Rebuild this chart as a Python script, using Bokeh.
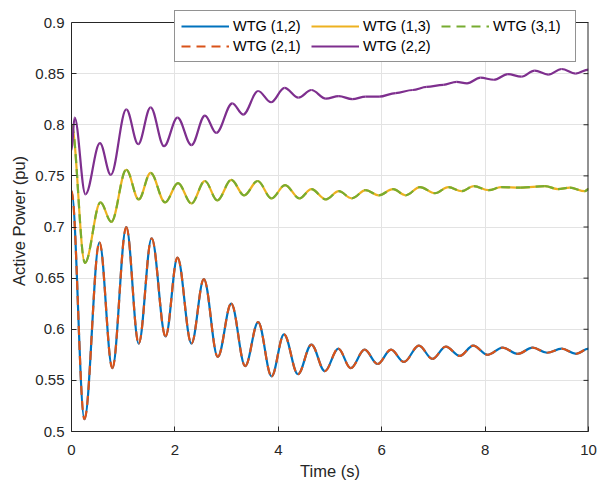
import numpy as np
from bokeh.plotting import figure
from bokeh.models import ColumnDataSource, Range1d, FixedTicker, Legend, LegendItem
from bokeh.embed import file_html
from bokeh.resources import INLINE

# ---- data: turning points (time s, active power pu) ----
t_12 = [0.00, 0.25, 0.54, 0.79, 1.06, 1.30, 1.55, 1.82, 2.05, 2.32, 2.56, 2.83,
        3.09, 3.36, 3.61, 3.87, 4.11, 4.38, 4.64, 4.90, 5.16, 5.40, 5.67, 5.92,
        6.18, 6.43, 6.72, 6.98, 7.24, 7.51, 7.77, 8.05, 8.34, 8.63, 8.92, 9.20,
        9.48, 9.76, 10.00]
p_12 = [0.735, 0.512, 0.685, 0.562, 0.700, 0.586, 0.689, 0.593, 0.670, 0.586,
        0.649, 0.573, 0.625, 0.564, 0.607, 0.554, 0.595, 0.556, 0.585, 0.559,
        0.581, 0.562, 0.580, 0.566, 0.580, 0.568, 0.584, 0.571, 0.583, 0.574,
        0.584, 0.575, 0.582, 0.576, 0.582, 0.577, 0.581, 0.576, 0.581]

# WTG (2,1) lies exactly on WTG (1,2) in the picture
t_21 = list(t_12)
p_21 = list(p_12)

t_13 = [0.00, 0.26, 0.56, 0.77, 1.06, 1.30, 1.53, 1.81, 2.06, 2.32, 2.58, 2.82,
        3.09, 3.34, 3.60, 3.87, 4.13, 4.41, 4.64, 4.92, 5.17, 5.42, 5.69, 5.94,
        6.22, 6.46, 6.74, 7.03, 7.29, 7.55, 7.78, 8.07, 8.31, 8.69, 9.16, 9.41,
        9.64, 9.93, 10.00]
p_13 = [0.800, 0.665, 0.724, 0.705, 0.756, 0.727, 0.753, 0.724, 0.743, 0.723,
        0.745, 0.726, 0.746, 0.731, 0.745, 0.728, 0.741, 0.728, 0.737, 0.727,
        0.735, 0.728, 0.736, 0.731, 0.737, 0.731, 0.739, 0.733, 0.739, 0.735,
        0.740, 0.736, 0.739, 0.7385, 0.740, 0.737, 0.7385, 0.735, 0.737]

# WTG (3,1) lies exactly on WTG (1,3) in the picture
t_31 = list(t_13)
p_31 = list(p_13)

t_22 = [0.00, 0.06, 0.27, 0.55, 0.76, 1.06, 1.29, 1.53, 1.79, 2.05, 2.32, 2.58,
        2.80, 3.11, 3.32, 3.61, 3.86, 4.12, 4.39, 4.64, 4.92, 5.17, 5.43, 5.69,
        5.95, 6.27, 6.60, 6.87, 7.19, 7.45, 7.65, 7.91, 8.17, 8.44, 8.70, 8.96,
        9.22, 9.48, 9.75, 10.00]
p_22 = [0.775, 0.807, 0.732, 0.782, 0.751, 0.815, 0.781, 0.817, 0.779, 0.807,
        0.780, 0.809, 0.792, 0.821, 0.810, 0.833, 0.822, 0.836, 0.8265, 0.834,
        0.8255, 0.828, 0.825, 0.8275, 0.8275, 0.831, 0.834, 0.837, 0.839, 0.842,
        0.8405, 0.846, 0.844, 0.8495, 0.847, 0.853, 0.849, 0.8545, 0.850, 0.854]

series_labels = ["WTG (1,2)", "WTG (1,3)", "WTG (3,1)", "WTG (2,1)", "WTG (2,2)"]

x_ticks = [0, 2, 4, 6, 8, 10]
x_tick_labels = ["0", "2", "4", "6", "8", "10"]
y_ticks = [0.5, 0.55, 0.6, 0.65, 0.7, 0.75, 0.8, 0.85, 0.9]
y_tick_labels = ["0.5", "0.55", "0.6", "0.65", "0.7", "0.75", "0.8", "0.85", "0.9"]

# ---- layout / styling ----
FONT = "Liberation Sans"
DARK = "#262626"
C_BLUE, C_ORANGE, C_YELLOW, C_PURPLE, C_GREEN = "#0072BD", "#D95319", "#EDB120", "#7E2F8E", "#77AC30"

FRAME_W = 517
AXES_H = 409          # height of the 0.5 .. 0.9 box in pixels
HEADROOM = 12         # legend sticks out above the box by this much
X_LO, X_HI = x_ticks[0], x_ticks[-1]
Y_LO, Y_HI = y_ticks[0], y_ticks[-1]
Y_TOP = Y_HI + (Y_HI - Y_LO) * HEADROOM / AXES_H
TICK_PX = 5


def smooth_source(t, v, k=0.36):
    """Cubic Bezier segments between successive turning points (flat tangents)."""
    t = np.asarray(t, float)
    v = np.asarray(v, float)
    x0, x1 = t[:-1], t[1:]
    y0, y1 = v[:-1], v[1:]
    dx = x1 - x0
    return ColumnDataSource(dict(x0=x0, y0=y0, x1=x1, y1=y1,
                                 cx0=x0 + k * dx, cy0=y0,
                                 cx1=x1 - k * dx, cy1=y1))


p = figure(frame_width=FRAME_W, frame_height=AXES_H + HEADROOM,
           x_range=Range1d(X_LO, X_HI), y_range=Range1d(Y_LO, Y_TOP),
           output_backend="svg", toolbar_location=None,
           min_border_left=71, min_border_right=12, min_border_top=10,
           min_border_bottom=10)
p.background_fill_color = "white"
p.border_fill_color = "white"
p.outline_line_color = None

# grid
xt = FixedTicker(ticks=x_ticks)
yt = FixedTicker(ticks=y_ticks)
p.xgrid.ticker = xt
p.ygrid.ticker = yt
p.grid.grid_line_color = "#e3e3e3"
p.grid.grid_line_width = 1

bz = dict(x0="x0", y0="y0", x1="x1", y1="y1", cx0="cx0", cy0="cy0", cx1="cx1", cy1="cy1")

r12 = p.bezier(source=smooth_source(t_12, p_12), line_color=C_BLUE, line_width=2.2, **bz)
r21 = p.bezier(source=smooth_source(t_21, p_21), line_color=C_ORANGE, line_width=2.2,
               line_dash="9 6", **bz)
r13 = p.bezier(source=smooth_source(t_13, p_13), line_color=C_YELLOW, line_width=2.2, **bz)
r31 = p.bezier(source=smooth_source(t_31, p_31), line_color=C_GREEN, line_width=2.2,
               line_dash="9 6", **bz)
r22 = p.bezier(source=smooth_source(t_22, p_22), line_color=C_PURPLE, line_width=2.2, **bz)

# box: top and right spines, inward ticks on the right
p.segment(x0=[X_LO], y0=[Y_HI], x1=[X_HI], y1=[Y_HI], line_color=DARK, line_width=1)
p.segment(x0=[X_HI], y0=[Y_LO], x1=[X_HI], y1=[Y_HI], line_color=DARK, line_width=2)
dx_tick = (X_HI - X_LO) * TICK_PX / FRAME_W
p.segment(x0=[X_HI - dx_tick] * len(y_ticks), y0=y_ticks,
          x1=[X_HI] * len(y_ticks), y1=y_ticks, line_color=DARK, line_width=1)

# axes
p.xaxis.ticker = xt
p.yaxis.ticker = yt
p.yaxis.bounds = (Y_LO, Y_HI)
p.xaxis.major_label_overrides = {k: s for k, s in zip(x_ticks, x_tick_labels)}
p.yaxis.major_label_overrides = {k: s for k, s in zip(y_ticks, y_tick_labels)}

for ax in (p.xaxis[0], p.yaxis[0]):
    ax.axis_line_color = DARK
    ax.major_tick_line_color = DARK
    ax.major_tick_in = TICK_PX
    ax.major_tick_out = 0
    ax.minor_tick_line_color = None
    ax.major_label_text_font = FONT
    ax.major_label_text_font_size = "15px"
    ax.major_label_text_color = DARK
    ax.axis_label_text_font = FONT
    ax.axis_label_text_font_size = "16.5px"
    ax.axis_label_text_font_style = "normal"
    ax.axis_label_text_color = DARK

p.xaxis.axis_label = "Time (s)"
p.yaxis.axis_label = "Active Power (pu)"
p.xaxis.major_label_standoff = 13
p.xaxis.axis_label_standoff = 4
p.yaxis.major_label_standoff = 7
p.yaxis.axis_label_standoff = 4

legend = Legend(items=[LegendItem(label=series_labels[0], renderers=[r12]),
                       LegendItem(label=series_labels[1], renderers=[r13]),
                       LegendItem(label=series_labels[2], renderers=[r31]),
                       LegendItem(label=series_labels[3], renderers=[r21]),
                       LegendItem(label=series_labels[4], renderers=[r22])],
                orientation="horizontal", ncols=3, location=(103, 369))
legend.border_line_color = DARK
legend.border_line_width = 1
legend.background_fill_color = "white"
legend.background_fill_alpha = 1
legend.label_text_font = FONT
legend.label_text_font_size = "14.5px"
legend.label_text_color = "black"
legend.glyph_width = 48
legend.glyph_height = 18
legend.label_height = 18
legend.label_width = 76
legend.label_standoff = 4
legend.spacing = 2
legend.padding = 6
legend.margin = 0
p.add_layout(legend, "center")

open("out.html", "w").write(file_html(p, INLINE))
